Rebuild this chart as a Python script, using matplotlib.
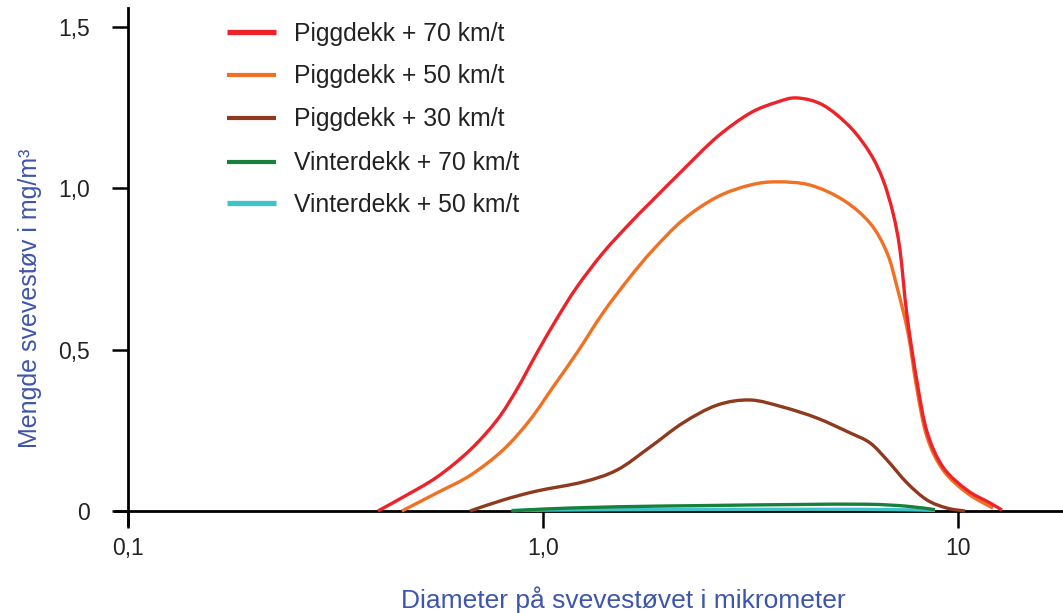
import matplotlib
matplotlib.use("Agg")
import numpy as np
import matplotlib.pyplot as plt
from matplotlib.lines import Line2D
from matplotlib.path import Path
from matplotlib.patches import PathPatch
from matplotlib.ticker import FixedLocator, NullLocator, FixedFormatter

plt.rcParams['font.family'] = ['Liberation Sans', 'DejaVu Sans']

# ---- data (diameter in micrometre, amount in mg/m3) ----
labels = ["Piggdekk + 70 km/t", "Piggdekk + 50 km/t", "Piggdekk + 30 km/t",
          "Vinterdekk + 70 km/t", "Vinterdekk + 50 km/t"]
colors = ["#EE2229", "#F27023", "#8E3A1E", "#16803C", "#3EC3C8"]

p70_x = [0.400, 0.460, 0.555, 0.667, 0.775, 0.866, 0.967, 1.081, 1.207, 1.395, 1.621,
         1.811, 2.174, 2.626, 3.155, 3.664, 4.093, 4.728, 5.494, 6.138, 6.598, 6.973,
         7.247, 7.537, 7.968, 8.423, 9.203, 10.51, 11.94, 12.76]
p70_y = [0.000, 0.043, 0.105, 0.189, 0.282, 0.378, 0.490, 0.597, 0.694, 0.800, 0.892,
         0.955, 1.057, 1.159, 1.233, 1.267, 1.280, 1.258, 1.190, 1.109, 1.026, 0.923,
         0.809, 0.605, 0.400, 0.245, 0.136, 0.065, 0.025, 0.003]

p50_x = [0.457, 0.555, 0.667, 0.801, 0.930, 1.057, 1.207, 1.395, 1.621, 1.841, 2.174,
         2.626, 3.155, 3.664, 4.399, 5.284, 6.138, 6.745, 7.129, 7.580, 7.968, 8.423,
         9.203, 10.51, 12.14]
p50_y = [0.000, 0.056, 0.110, 0.189, 0.282, 0.384, 0.490, 0.614, 0.725, 0.809, 0.902,
         0.973, 1.010, 1.020, 1.010, 0.964, 0.892, 0.800, 0.694, 0.551, 0.375, 0.229,
         0.127, 0.056, 0.009]

p30_x = [0.667, 0.801, 0.967, 1.248, 1.508, 1.811, 2.174, 2.626,
         3.155, 3.787, 4.574, 5.494, 6.138, 6.745, 7.537, 8.423, 9.41, 10.4]
p30_y = [0.000, 0.034, 0.062, 0.090, 0.127, 0.198, 0.273, 0.328,
         0.344, 0.322, 0.288, 0.242, 0.211, 0.158, 0.087, 0.034, 0.009, 0.000]

v70_x = [0.84, 1.0, 1.5, 2.5, 4.0, 6.0, 7.5, 8.8]
v70_y = [0.000, 0.006, 0.013, 0.017, 0.020, 0.021, 0.015, 0.004]

v50_x = [0.84, 1.5, 3.0, 6.0, 8.8]
v50_y = [0.002, 0.004, 0.005, 0.005, 0.002]

xtick_vals = [0.1, 1.0, 10]
xtick_labels = ["0,1", "1,0", "10"]
ytick_vals = [0, 0.5, 1.0, 1.5]
ytick_labels = ["0", "0,5", "1,0", "1,5"]


def smooth_path(xs, ys):
    """Catmull-Rom curve through the data points, as cubic Bezier segments
    built in (log10 x, y) space and returned in data coordinates."""
    u = np.log10(np.asarray(xs, float))
    v = np.asarray(ys, float)
    P = np.column_stack([u, v])
    n = len(P)
    verts = [P[0]]
    codes = [Path.MOVETO]
    for i in range(n - 1):
        p0 = P[i - 1] if i > 0 else P[i]
        p3 = P[i + 2] if i + 2 < n else P[i + 1]
        c1 = P[i] + (P[i + 1] - p0) / 6.0
        c2 = P[i + 1] - (p3 - P[i]) / 6.0
        verts += [c1, c2, P[i + 1]]
        codes += [Path.CURVE4] * 3
    verts = np.array(verts)
    verts[:, 0] = 10 ** verts[:, 0]
    return Path(verts, codes)


# ---- figure ----
W, H = 1063, 613
fig = plt.figure(figsize=(W / 100, H / 100), dpi=100)
ax = fig.add_axes([115 / W, (H - 525) / H, (W - 115) / W, (525 - 8) / H])

ax.set_xscale('log')
ax.set_xlim(10 ** (-1 - 13 / 415), 10 ** (-1 + (W - 128) / 415))
ax.set_ylim(-14 / 322.7, 503 / 322.7)

series = [(v50_x, v50_y, 4), (v70_x, v70_y, 3), (p30_x, p30_y, 2),
          (p50_x, p50_y, 1), (p70_x, p70_y, 0)]
for xs, ys, i in series:
    patch = PathPatch(smooth_path(xs, ys), fill=False, edgecolor=colors[i],
                      lw=2.4, capstyle='butt', joinstyle='round',
                      zorder=3 + (4 - i) * 0.01, transform=ax.transData)
    ax.add_patch(patch)

for s in ['top', 'right']:
    ax.spines[s].set_visible(False)
ax.spines['left'].set_position(('data', 0.1))
ax.spines['bottom'].set_position(('data', 0))
for s in ['left', 'bottom']:
    ax.spines[s].set_linewidth(2.0)
    ax.spines[s].set_color('black')
    ax.spines[s].set_zorder(2.5)

ax.xaxis.set_major_locator(FixedLocator(xtick_vals))
ax.xaxis.set_major_formatter(FixedFormatter(xtick_labels))
ax.xaxis.set_minor_locator(NullLocator())
ax.yaxis.set_major_locator(FixedLocator(ytick_vals))
ax.yaxis.set_major_formatter(FixedFormatter(ytick_labels))
ax.yaxis.set_minor_locator(NullLocator())

ax.tick_params(axis='x', direction='out', length=12, width=1.8, pad=7,
               labelsize=16.5, labelcolor='#222222', color='black')
ax.tick_params(axis='y', direction='out', length=11.5, width=1.8, pad=16,
               labelsize=16.5, labelcolor='#222222', color='black')

label_color = '#3E55AC'
fig.text(623.5 / W, 1 - 600 / H, "Diameter på svevestøvet i mikrometer",
         ha='center', va='center', fontsize=19, color=label_color)
fig.text(30 / W, 1 - 298 / H, "Mengde svevestøv i mg/m³",
         ha='center', va='center', rotation=90, fontsize=18, color=label_color)

# ---- legend (manual layout) ----
rows = [32, 74.5, 117.5, 161.5, 203]
lws = [3.8, 3.0, 3.0, 3.0, 3.8]
for lab, col, yr, lw in zip(labels, colors, rows, lws):
    yf = 1 - yr / H
    fig.add_artist(Line2D([227 / W, 276 / W], [yf, yf], transform=fig.transFigure,
                          color=col, lw=lw, solid_capstyle='butt'))
    fig.text(294 / W, 1 - (yr + 8.9) / H, lab, ha='left', va='baseline',
             fontsize=17.8, color='#222222')

fig.savefig("out.png", dpi=100)
